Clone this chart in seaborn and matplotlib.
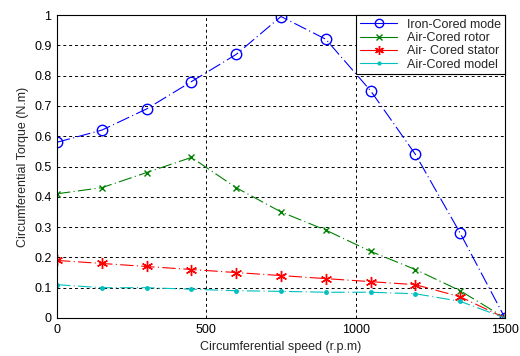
import matplotlib
matplotlib.use("Agg")
import matplotlib.pyplot as plt
import seaborn as sns
import pandas as pd

speed = [0, 150, 300, 450, 600, 750, 900, 1050, 1200, 1350, 1500]
iron_cored = [0.58, 0.62, 0.69, 0.78, 0.87, 0.995, 0.92, 0.75, 0.54, 0.28, 0.0]
air_rotor = [0.41, 0.43, 0.48, 0.53, 0.43, 0.35, 0.29, 0.22, 0.16, 0.09, 0.0]
air_stator = [0.19, 0.18, 0.17, 0.16, 0.15, 0.14, 0.13, 0.12, 0.11, 0.07, 0.0]
air_model = [0.11, 0.10, 0.10, 0.095, 0.09, 0.088, 0.085, 0.085, 0.08, 0.055, 0.0]
labels = ["Iron-Cored mode", "Air-Cored rotor", "Air- Cored stator", "Air-Cored model"]

sns.set_style("white")
plt.rcParams["font.family"] = ["Liberation Sans", "DejaVu Sans"]
plt.rcParams["font.size"] = 9

df = pd.DataFrame({"speed": speed * 4,
                   "torque": iron_cored + air_rotor + air_stator + air_model,
                   "series": [l for l in labels for _ in speed]})

fig = plt.figure(figsize=(5.2, 3.56), dpi=100)
ax = fig.add_axes([57/520, 1-318/356, (505-57)/520, (318-15)/356])

colors = ["#0000ff", "#008000", "#ff0000", "#00bfbf"]
markers = ["o", "x", (6, 2, 0), "."]
msizes = [7.5, 5, 8, 5]
for lab, c, m, ms in zip(labels, colors, markers, msizes):
    sub = df[df["series"] == lab]
    sns.lineplot(data=sub, x="speed", y="torque", ax=ax, color=c, marker=m,
                 markersize=ms, linewidth=0.8, dashes=False, label=lab,
                 markerfacecolor="none" if m == "o" else c,
                 markeredgecolor=c, markeredgewidth=1.0)
for line in ax.lines:
    line.set_dashes((12, 3, 1, 3))

ax.set_xlim(0, 1500)
ax.set_ylim(0, 1)
ax.set_xticks([0, 500, 1000, 1500])
ax.set_yticks([0, 0.1, 0.2, 0.3, 0.4, 0.5, 0.6, 0.7, 0.8, 0.9, 1])
ax.set_yticklabels(["0", "0.1", "0.2", "0.3", "0.4", "0.5", "0.6", "0.7", "0.8", "0.9", "1"])
ax.grid(True, color="black", linestyle=(0, (3, 3)), linewidth=0.7)
ax.tick_params(direction="in", length=3, labelsize=9, colors="black", pad=4)
for s in ax.spines.values():
    s.set_color("black")
    s.set_linewidth(0.8)
ax.set_xlabel("Circumferential speed (r.p.m)", fontsize=9)
ax.set_ylabel("Circumferential Torque (N.m)", fontsize=9)

leg = ax.legend(loc="upper right", fontsize=9, frameon=True, fancybox=False,
                framealpha=1, edgecolor="black", borderaxespad=0.0,
                handlelength=3, labelspacing=0.1, borderpad=0.3)
leg.get_frame().set_linewidth(0.8)
for h in leg.get_lines():
    h.set_linestyle("-")
    h.set_markersize(h.get_markersize() * 0.8)

fig.savefig("out.png", dpi=100)
